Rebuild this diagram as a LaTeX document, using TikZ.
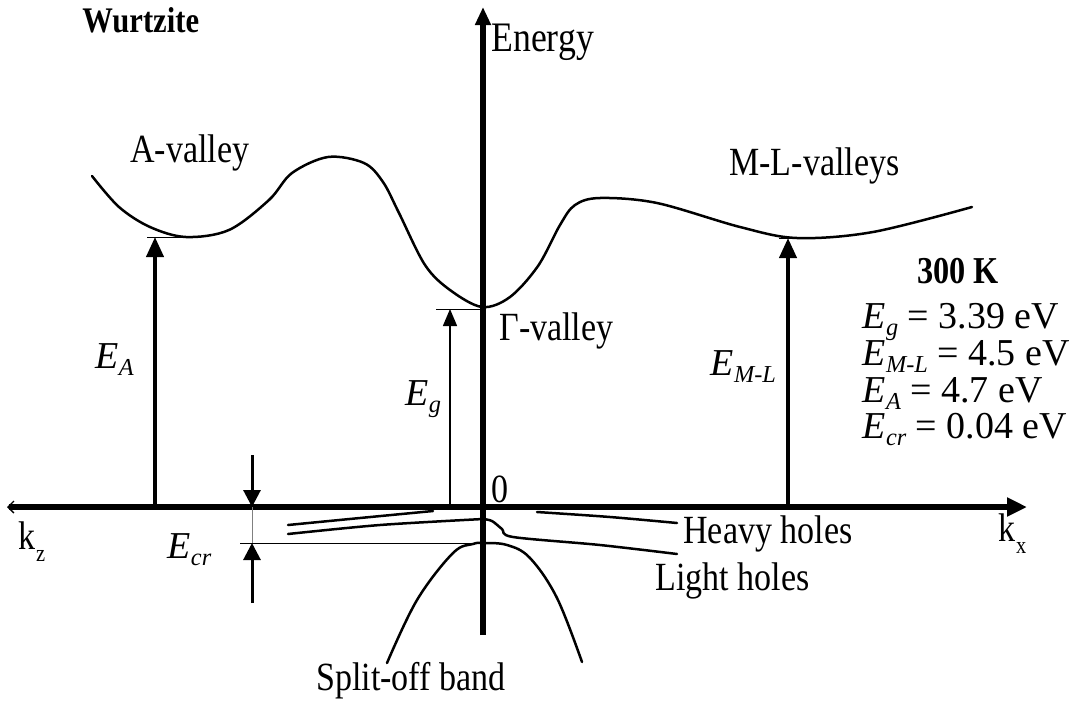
\documentclass[tikz,border=0pt]{standalone}
\usepackage{fontspec}
\setmainfont{Liberation Serif}
\newfontfamily\condfont{Liberation Serif}[FakeStretch=0.85]
\usetikzlibrary{arrows.meta}
\newcommand{\Elab}[1]{\textit{E}\kern0.01em\raisebox{-0.2em}{\scalebox{0.64}{\textit{#1}}}}
\newcommand{\ksub}[1]{k\kern0.02em\raisebox{-0.3em}{\scalebox{0.6}{#1}}}
\begin{document}
\begin{tikzpicture}[x=0.5pt,y=-0.5pt,
    lbl/.style={anchor=base west,inner sep=0pt,font=\condfont\fontsize{20}{23}\selectfont},
    eqn/.style={anchor=base west,inner sep=0pt,font=\fontsize{19}{22}\selectfont},
    axis/.style={line width=3pt},
    band/.style={line width=1.25pt,line join=round,line cap=round},
    tick/.style={line width=0.45pt},
    gapbig/.style={line width=2pt,-{Triangle[length=10pt,width=8.5pt]}},
    gapthin/.style={line width=0.75pt,-{Triangle[length=8.5pt,width=7pt]}},
    crarrow/.style={line width=1.5pt,-{Triangle[length=8.5pt,width=8.5pt]}}]
  \useasboundingbox (0,0) rectangle (1071,702);
  % axes
  \coordinate (O) at (483,507);
  \coordinate (kzend) at (7,507);
  \coordinate (kxend) at (1027,507);
  \coordinate (ebot) at (483,635);
  \coordinate (etop) at (483,7);
  \draw[axis,{Straight Barb[length=3pt,width=6pt,line width=0.7pt]}-{Triangle[length=10pt,width=9pt]}] (kzend) -- (kxend);
  \draw[axis,-{Triangle[length=9pt,width=7.5pt]}] (ebot) -- (etop);
  % conduction band
  \draw[band] plot[smooth,tension=0.55] coordinates {(92,176) (119,207) (150,227) (186,237)
    (229,230) (269,200) (292,173) (328,157) (364,163) (383,182) (399,213) (425,265)
    (450,290) (482,307) (510,297) (538,266) (560,225) (575,205) (600,198) (657,203)
    (740,227) (797,238) (873,232) (972,207)};
  % valence bands
  \draw[band] plot[smooth] coordinates {(288,525) (360,518) (433,511)};
  \draw[band] plot[smooth] coordinates {(288,534) (380,525) (483,519)};
  \draw[band] plot[smooth,tension=0.5] coordinates {(483,519) (492,521) (502,529) (513,537) (600,545) (677,554)};
  \draw[band] plot[smooth] coordinates {(537,512) (610,517) (677,523)};
  \draw[band] plot[smooth,tension=0.6] coordinates {(387,663) (417,600) (453,553) (473,544)
    (483,543) (507,545) (530,558) (557,598) (582,662)};
  % gaps
  \coordinate (Amin) at (155,237);
  \coordinate (Abase) at (155,507);
  \coordinate (Gmin) at (450,309);
  \coordinate (Gbase) at (450,507);
  \coordinate (MLmin) at (788,238);
  \coordinate (MLbase) at (788,507);
  \draw[tick] (147,237) -- (186,237);
  \draw[tick] (436,309) -- (483,309);
  \draw[tick] (779,238) -- (805,238);
  \draw[gapbig] (Abase) -- (Amin);
  \draw[gapthin] (Gbase) -- (Gmin);
  \draw[gapbig] (MLbase) -- (MLmin);
  % crystal field splitting
  \coordinate (crtop) at (252,507);
  \coordinate (crbot) at (252,543);
  \coordinate (crup) at (252,455);
  \coordinate (crdown) at (252,603);
  \draw[tick] (240,543) -- (483,543);
  \draw[tick,gray] (crtop) -- (crbot);
  \draw[crarrow] (crup) -- (crtop);
  \draw[crarrow] (crdown) -- (crbot);
  % labels
  \node[lbl,font=\condfont\bfseries\fontsize{18}{21}\selectfont] (title) at (82,32) {Wurtzite};
  \node[lbl,font=\condfont\fontsize{21}{24}\selectfont] (energy) at (491,51) {Energy};
  \node[lbl] (avalley) at (130,162) {A-valley};
  \node[lbl] (mlvalley) at (729,175) {M-L-valleys};
  \node[lbl] (gvalley) at (499,340) {Γ-valley};
  \node[lbl] (heavy) at (683,543) {Heavy holes};
  \node[lbl] (light) at (655,590) {Light holes};
  \node[lbl] (split) at (316,690) {Split-off band};
  \node[lbl] (zero) at (491,502) {0};
  \node[lbl] (kz) at (18,549) {\ksub{z}};
  \node[lbl] (kx) at (998,541) {\ksub{x}};
  \node[eqn] (EA) at (95,368) {\Elab{A}};
  \node[eqn] (Eg) at (405,405) {\Elab{g}};
  \node[eqn] (EML) at (710,375) {\Elab{M-L}};
  \node[eqn] (Ecr) at (167,558) {\Elab{cr}};
  \node[anchor=base,inner sep=0pt,font=\condfont\bfseries\fontsize{19}{22}\selectfont] (temp) at (958,283) {300 K};
  \node[eqn] (v1) at (862,328) {\Elab{g} = 3.39 eV};
  \node[eqn] (v2) at (862,365) {\Elab{M-L} = 4.5 eV};
  \node[eqn] (v3) at (862,402) {\Elab{A} = 4.7 eV};
  \node[eqn] (v4) at (862,438) {\Elab{cr} = 0.04 eV};
\end{tikzpicture}
\end{document}
